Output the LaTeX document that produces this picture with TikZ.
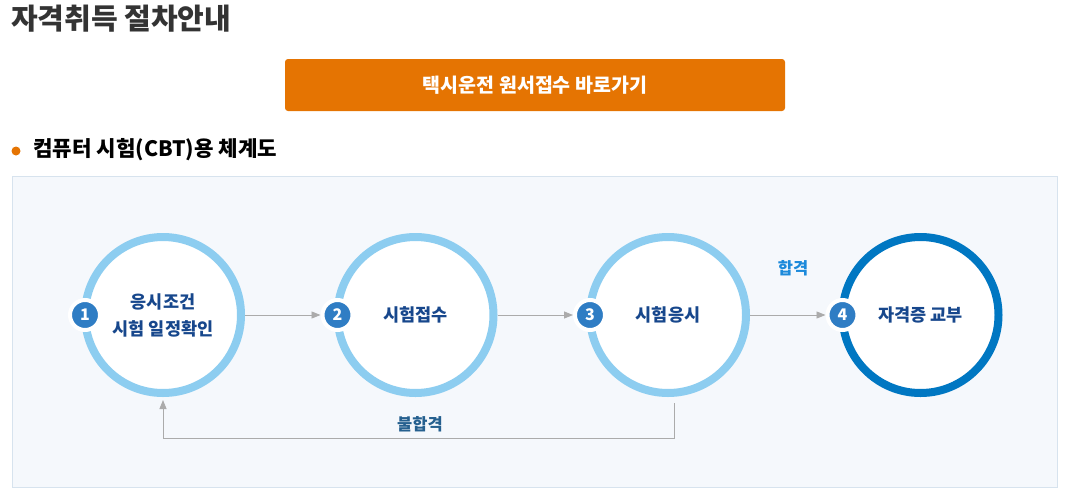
\documentclass[tikz,border=0pt]{standalone}
\usepackage{fontspec}
\setmainfont{Noto Sans CJK KR}
\usetikzlibrary{
  arrows.meta,
  positioning
}
\definecolor{TitleGray}{RGB}{51,51,51}
\definecolor{BtnOrange}{RGB}{229,116,2}
\definecolor{PanelFill}{RGB}{245,248,252}
\definecolor{PanelLine}{RGB}{215,227,238}
\definecolor{RingLight}{RGB}{141,205,240}
\definecolor{RingDark}{RGB}{0,119,194}
\definecolor{BadgeBlue}{RGB}{47,125,196}
\definecolor{StepNavy}{RGB}{23,71,140}
\definecolor{PassBlue}{RGB}{28,138,219}
\definecolor{FailBlue}{RGB}{37,96,143}
\definecolor{ArrowGray}{RGB}{171,171,171}
\tikzset{
  stage/.style={circle,draw=RingLight,line width=8pt,fill=white,minimum size=156pt,outer sep=0pt,align=center,text=StepNavy,font=\fontsize{17.5}{27}\selectfont\bfseries},
  finalstage/.style={stage,draw=RingDark},
  badge/.style={circle,fill=BadgeBlue,draw=white,line width=4pt,minimum size=30pt,inner sep=0pt,text=white,font=\fontsize{16}{16}\selectfont\bfseries},
  flow/.style={-{Triangle[length=9pt,width=7pt]},draw=ArrowGray,line width=0.9pt},
  btn/.style={fill=BtnOrange,rounded corners=3pt,minimum width=500pt,minimum height=52pt,text=white,font=\fontsize{19.5}{19.5}\selectfont\bfseries}
}
\begin{document}
\begin{tikzpicture}[x=1pt,y=1pt,node distance=252.5pt,on grid]
\useasboundingbox (0,0) rectangle (1074,-496);
% header
\node[anchor=west,inner sep=0pt,text=TitleGray,font=\fontsize{29}{29}\selectfont\bfseries] (title) at (11,-19) {자격취득 절차안내};
\node[btn] (go) at (535,-85) {택시운전 원서접수 바로가기};
\node[circle,fill=BtnOrange,minimum size=9pt,inner sep=0pt] (dot) at (16,-151) {};
\node[anchor=west,inner sep=0pt,text=black,font=\fontsize{21.2}{21.2}\selectfont\bfseries] (sub) at (33,-150) {컴퓨터 시험(CBT)용 체계도};
% panel
\draw[draw=PanelLine,fill=PanelFill] (12,-176) rectangle (1057,-487);
% stages
\node[stage] (s1) at (163,-315) {응시조건\\시험 일정확인};
\node[stage, right=of s1] (s2) {시험접수};
\node[stage, right=of s2] (s3) {시험응시};
\node[finalstage, right=of s3] (s4) {자격증 교부};
\node[badge] (n1) at (s1.west) {1};
\node[badge] (n2) at (s2.west) {2};
\node[badge] (n3) at (s3.west) {3};
\node[badge] (n4) at (s4.west) {4};
\draw[flow, shorten <=4pt] (s1.east) -- (n2);
\draw[flow, shorten <=4pt] (s2.east) -- (n3);
\draw[flow, shorten <=4pt] (s3.east) -- (n4);
\node[text=PassBlue,font=\fontsize{16.5}{16.5}\selectfont\bfseries] (pass) at (793,-268) {합격};
% retry loop
\coordinate (low) at ([xshift=6pt,yshift=-45pt]s3.south);
\draw[flow] ([xshift=6pt,yshift=-10pt]s3.south) -- (low) -| ([yshift=-7pt]s1.south);
\node[text=FailBlue,font=\fontsize{16.5}{16.5}\selectfont\bfseries] (fail) at (420,-424) {불합격};
\end{tikzpicture}
\end{document}
